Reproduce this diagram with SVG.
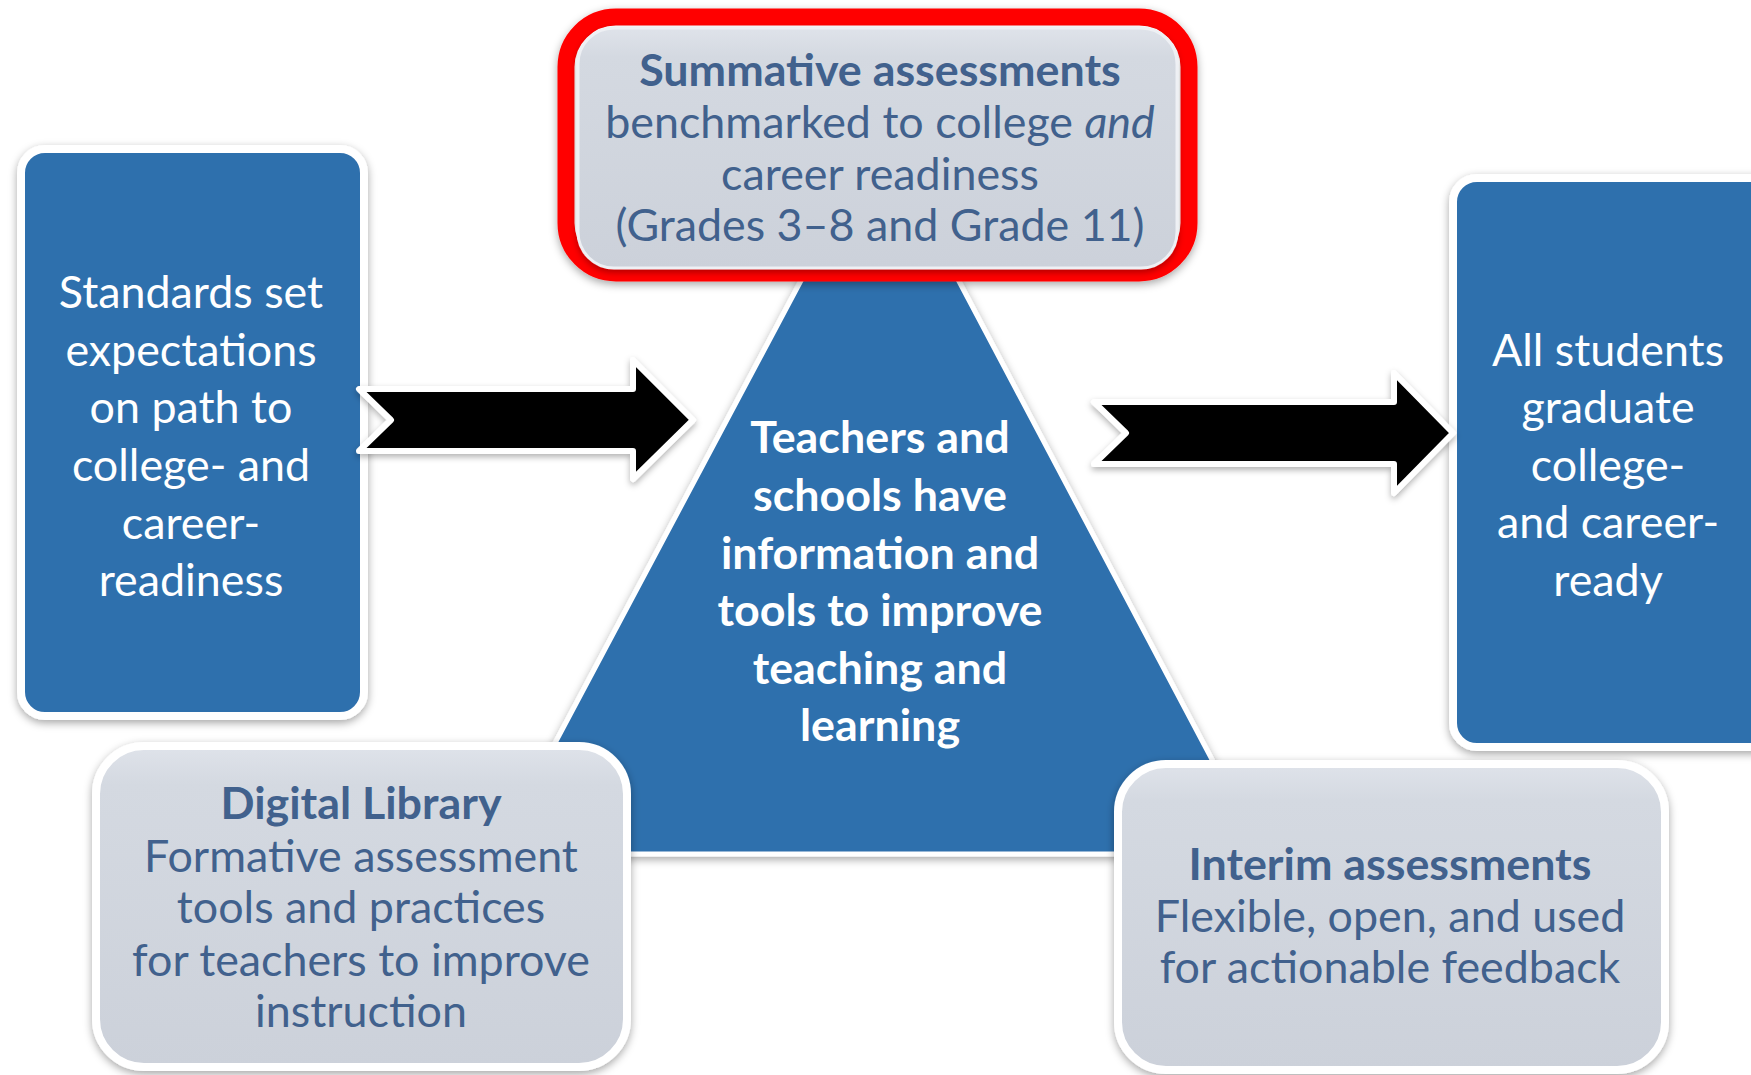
<svg xmlns="http://www.w3.org/2000/svg" width="1751" height="1075" viewBox="0 0 1751 1075">
<defs>
  <filter id="sh" x="-10%" y="-10%" width="120%" height="125%">
    <feDropShadow dx="0" dy="3" stdDeviation="4" flood-color="#000" flood-opacity="0.35"/>
  </filter>
  <filter id="shs" x="-10%" y="-20%" width="120%" height="140%">
    <feDropShadow dx="0" dy="3" stdDeviation="3" flood-color="#000" flood-opacity="0.3"/>
  </filter>
  <linearGradient id="grey" x1="0" y1="0" x2="0" y2="1">
    <stop offset="0" stop-color="#DFE3EA"/>
    <stop offset="0.12" stop-color="#D4D9E1"/>
    <stop offset="1" stop-color="#CCD1DA"/>
  </linearGradient>
  <style>
    text { font-family: Lato, "Open Sans", "Liberation Sans", sans-serif; font-size: 44.8px; text-anchor: middle; }
    .w { fill: #FFFFFF; }
    .g { fill: #41618D; }
    .b { font-weight: bold; }
    .blue { fill: #2E6FAD; stroke: #FFFFFF; stroke-width: 8; }
    .gbox { fill: url(#grey); stroke: #FFFFFF; stroke-width: 8; }
    .arrow { fill: #000000; stroke: #FFFFFF; stroke-width: 6; stroke-linejoin: round; }
  </style>
</defs>
<rect width="1751" height="1075" fill="#FFFFFF"/>

<g id="triangle">
  <polygon points="880,132 496,854 1262,854" fill="#2E6FAD" stroke="#FFFFFF" stroke-width="5" stroke-linejoin="round" filter="url(#sh)"/>
  <text class="w b" x="880" y="453">Teachers and</text>
  <text class="w b" x="880" y="511">schools have</text>
  <text class="w b" x="880" y="569">information and</text>
  <text class="w b" x="880" y="626">tools to improve</text>
  <text class="w b" x="880" y="684">teaching and</text>
  <text class="w b" x="880" y="741">learning</text>
</g>

<g id="standards">
  <rect class="blue" x="21" y="149" width="343" height="567" rx="24" filter="url(#sh)"/>
  <text class="w" x="191" y="308">Standards set</text>
  <text class="w" x="191" y="366">expectations</text>
  <text class="w" x="191" y="423">on path to</text>
  <text class="w" x="191" y="481">college- and</text>
  <text class="w" x="191" y="539">career-</text>
  <text class="w" x="191" y="596">readiness</text>
</g>

<g id="graduate">
  <rect class="blue" x="1453" y="178" width="340" height="569" rx="24" filter="url(#sh)"/>
  <text class="w" x="1608" y="366">All students</text>
  <text class="w" x="1608" y="423">graduate</text>
  <text class="w" x="1608" y="481">college-</text>
  <text class="w" x="1608" y="538">and career-</text>
  <text class="w" x="1608" y="596">ready</text>
</g>

<g id="connectors">
  <polygon class="arrow" filter="url(#shs)" points="359,389 633,389 633,360 693,420 633,479 633,451 359,451 391,420"/>
  <polygon class="arrow" filter="url(#shs)" points="1094,402 1394,402 1394,373 1453,433 1394,493 1394,464 1094,464 1126,433"/>
</g>

<g id="summative">
  <rect x="566" y="17" width="623" height="256" rx="50" fill="#FFFFFF" stroke="#FF0000" stroke-width="17" filter="url(#sh)"/>
  <rect x="578" y="28" width="599" height="240" rx="36" fill="url(#grey)" stroke="#EEF0F4" stroke-width="3" filter="url(#shs)"/>
  <text class="g b" x="880" y="86">Summative assessments</text>
  <text class="g" x="880" y="138">benchmarked to college <tspan font-style="italic">and</tspan></text>
  <text class="g" x="880" y="190">career readiness</text>
  <text class="g" x="880" y="241">(Grades 3–8 and Grade 11)</text>
</g>

<g id="digital-library">
  <rect class="gbox" x="96" y="746" width="531" height="321" rx="48" filter="url(#sh)"/>
  <text class="g b" x="361" y="819">Digital Library</text>
  <text class="g" x="361" y="872">Formative assessment</text>
  <text class="g" x="361" y="923">tools and practices</text>
  <text class="g" x="361" y="976">for teachers to improve</text>
  <text class="g" x="361" y="1027">instruction</text>
</g>

<g id="interim">
  <rect class="gbox" x="1118" y="764" width="547" height="306" rx="48" filter="url(#sh)"/>
  <text class="g b" x="1390" y="880">Interim assessments</text>
  <text class="g" x="1390" y="932">Flexible, open, and used</text>
  <text class="g" x="1390" y="983">for actionable feedback</text>
</g>
</svg>
